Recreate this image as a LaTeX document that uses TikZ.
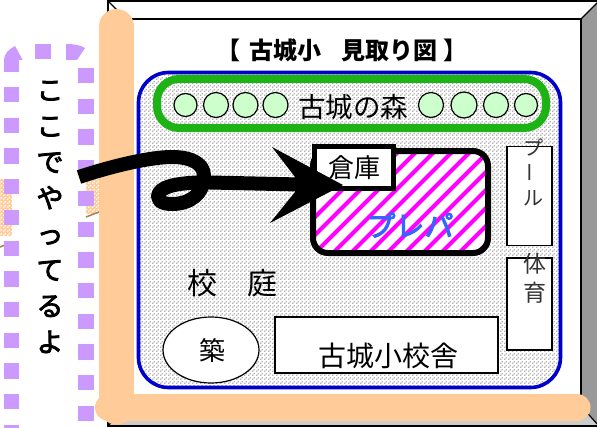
\documentclass[tikz,border=0pt]{standalone}
\usepackage{fontspec}
\usepackage{graphicx}
\usetikzlibrary{patterns,shapes.geometric}
\newfontfamily\jp{Noto Sans CJK JP}
\newfontfamily\jpfat[FakeBold=3]{Noto Sans CJK JP}
\newcommand{\fs}[1]{\fontsize{#1}{#1}\selectfont}
\pgfdeclarepatternformonly{mydots}{\pgfpointorigin}{\pgfqpoint{4pt}{4pt}}{\pgfqpoint{4pt}{4pt}}{
  \pgfpathrectangle{\pgfqpoint{0pt}{0pt}}{\pgfqpoint{1.7pt}{1.7pt}}
  \pgfpathrectangle{\pgfqpoint{2pt}{2pt}}{\pgfqpoint{1.7pt}{1.7pt}}
  \pgfusepath{fill}}
\definecolor{peach}{HTML}{FFCC99}
\definecolor{lilac}{HTML}{CC99FF}
\definecolor{leaf}{HTML}{1DB314}
\definecolor{pale}{HTML}{CCFFCC}
\definecolor{royal}{HTML}{0000CC}
\definecolor{sky}{HTML}{3366FF}
\definecolor{mag}{HTML}{FF00FF}
\tikzset{
  jptext/.style={font=\jp\fs{#1},inner sep=0pt,text=black},
  jpbold/.style={font=\jp\bfseries\fs{#1},inner sep=0pt,text=black},
  jpfat/.style={font=\jpfat\fs{#1},inner sep=0pt,text=black},
  thinbox/.style={draw=black,line width=1.4pt,fill=white},
  tree/.style={circle,draw=black,line width=1.2pt,fill=pale,inner sep=0pt},
  bar/.style={draw=peach,line cap=round,line join=round},
  lilacdash/.style={draw=lilac,line width=15.4pt,dash pattern=on 15.3pt off 15.4pt},
  inkstroke/.style={draw=black,line width=14pt,line join=round},
}
\begin{document}
\begin{tikzpicture}[x=1pt,y=-1pt]
\useasboundingbox (0,0) rectangle (597,428);
\clip (0,0) rectangle (597,428);
\fill[white] (0,0) rectangle (597,428);
% fragment behind callout
\fill[peach] (0,179) rectangle (12,236);
\fill[peach] (86,179) rectangle (100,214);
\fill[pattern=mydots,pattern color=white] (0,179) rectangle (12,236);
\fill[pattern=mydots,pattern color=white] (86,179) rectangle (100,214);
\draw[draw=brown!60!gray,line width=1.5pt] (86,217) -- (99,212);
\draw[draw=brown!60!gray,line width=1.5pt] (0,247) -- (5,245);
% bevelled frame
\fill[white] (108,1) rectangle (599,426);
\fill[black!40] (581,19) -- (599,1) -- (599,426) -- (581,406) -- cycle;
\fill[black!20] (126,406) -- (581,406) -- (599,426) -- (108,426) -- cycle;
\draw[black,line width=1.2pt,line join=miter] (108,1) rectangle (599,426);
\draw[black,line width=1.2pt] (126,19) rectangle (581,406);
\draw[black,line width=1.2pt] (108,1) -- (126,19) (581,19) -- (599,1) (581,406) -- (599,426) (126,406) -- (108,426);
% callout
\draw[lilacdash] (11.7,87) -- (11.7,445);
\draw[lilacdash] (86,68) -- (86,445);
\fill[lilac] (35,44) rectangle (51,59.5);
\fill[lilac] (4,60) rectangle (19,72);
\fill[lilac] (4,60) .. controls (4,54) and (8,50) .. (15,46) -- (22.7,60) -- cycle;
\fill[lilac] (66,44) .. controls (74,44) and (80,45) .. (85,48) -- (77,60) -- (66,60) -- cycle;
\node[jpfat=27,align=center] (call) at (50,217) {こ\\[9pt]こ\\[9pt]で\\[9pt]や\\[9pt]っ\\[9pt]て\\[9pt]る\\[9pt]よ};
% peach bars
\draw[bar,line width=35pt] (116.5,26.5) -- (116.5,407);
\draw[bar,line width=27pt] (108.5,407.5) -- (577,407.5);
% yard
\begin{scope}
\clip[rounded corners=30pt] (138.5,72.5) rectangle (560.5,387.5);
\fill[pattern=mydots,pattern color=black!30] (135,70) rectangle (565,390);
\end{scope}
\draw[draw=royal,line width=3.6pt,rounded corners=30pt] (138.5,72.5) rectangle (560.5,387.5);
% title
\node[jpbold=24] (title) at (342,50) {【\hspace{9pt}古城小\hspace{20pt}見取り図\hspace{6pt}】};
% forest
\draw[draw=leaf,line width=8pt,rounded corners=22pt] (157,79) rectangle (546,128);
\node[tree,minimum size=23pt] (t1) at (185.5,105) {};
\node[tree,minimum size=25pt] (t2) at (216,105) {};
\node[tree,minimum size=25pt] (t3) at (245.5,105) {};
\node[tree,minimum size=25pt] (t4) at (275.5,105) {};
\node[jptext=27.5] (forest) at (353,107) {古城の森};
\node[tree,minimum size=25pt] (t5) at (431,105) {};
\node[tree,minimum size=26pt] (t6) at (464,105) {};
\node[tree,minimum size=25pt] (t7) at (496,105) {};
\node[tree,minimum size=23pt] (t8) at (526,105) {};
% plepa
\begin{scope}
\clip[rounded corners=15pt] (313,151) rectangle (488,253);
\fill[white] (310,148) rectangle (491,256);
\foreach \k in {0,...,20}
  \draw[mag,line width=3.9pt] ({270+\k*18},262) -- ({270+\k*18+125},137);
\end{scope}
\draw[draw=black,line width=6pt,rounded corners=15pt] (313,151) rectangle (488,253);
\node[jpfat=29,text=sky] (plepa) at (410,225) {プレパ};
\node[draw=black,line width=5pt,fill=white,minimum width=79pt,minimum height=42pt,inner sep=0pt] (store) at (354,167.5) {};
\node[jptext=26] (storetext) at (354,168) {倉庫};
% pool, gym
\node[thinbox,minimum width=45pt,minimum height=99.5pt,inner sep=0pt] (pool) at (529.5,196) {};
\node[jptext=20,text=black!80] (p1) at (533,148) {プ};
\node[jptext=20,text=black!80,rotate=90] (p2) at (533,172) {ー};
\node[jptext=20,text=black!80] (p3) at (533,198) {ル};
\node[thinbox,minimum width=45pt,minimum height=92pt,inner sep=0pt] (gym) at (529.5,304) {};
\node[jptext=23,text=black!80] (g1) at (535,264) {体};
\node[jptext=23,text=black!80] (g2) at (535,293) {育};
% school
\node[thinbox,minimum width=223pt,minimum height=56pt,inner sep=0pt] (school) at (386.5,345) {};
\node[jptext=28] (schooltext) at (388,356) {古城小校舎};
\node[ellipse,draw=black,line width=1.2pt,fill=white,minimum width=96pt,minimum height=66pt,inner sep=0pt] (tsuki) at (211,350) {};
\node[jptext=26] (tsukitext) at (212,351) {築};
\node[jptext=30] (yard) at (232,283) {校　庭};
% ink arrow
\draw[inkstroke] (79,177) .. controls (112,166) and (150,157) .. (172,157)
  .. controls (192,157) and (204,164) .. (204,176)
  .. controls (204,194) and (190,204) .. (172,204)
  .. controls (160,204) and (156,199) .. (159,193)
  .. controls (163,185) and (185,182) .. (210,182.5)
  -- (300,184.5);
\fill[black] (343,185) -- (272,147) -- (295,177) -- (295,192) -- (270,223) -- cycle;
\end{tikzpicture}
\end{document}
